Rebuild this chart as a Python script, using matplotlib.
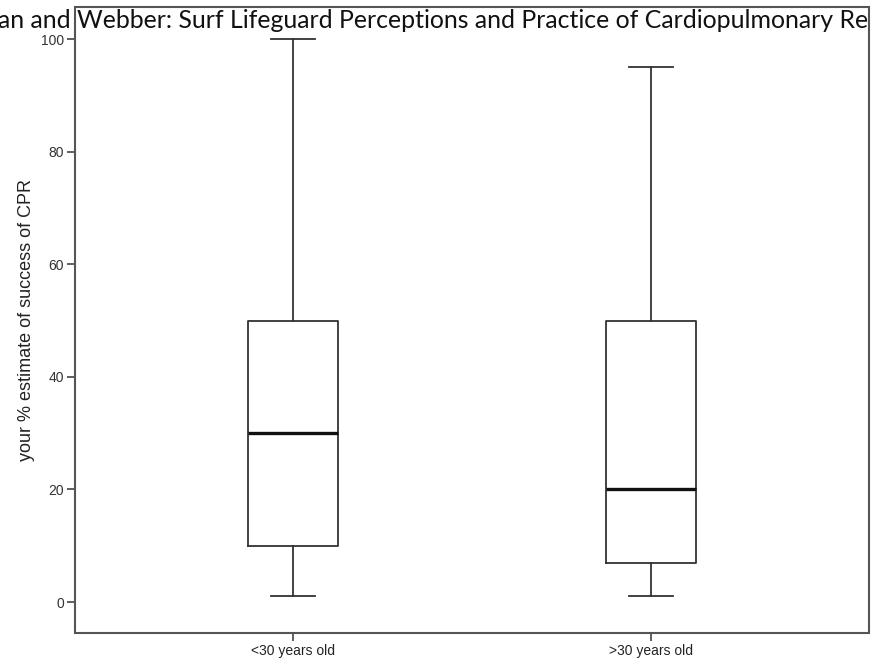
import matplotlib
matplotlib.use("Agg")
import matplotlib.pyplot as plt

categories = ["<30 years old", ">30 years old"]
whisker_low = [1, 1]
q1 = [10, 7]
median = [30, 20]
q3 = [50, 50]
whisker_high = [100, 95]
yticks = [0, 20, 40, 60, 80, 100]
ylabel = "your % estimate of success of CPR"
header = "an and Webber: Surf Lifeguard Perceptions and Practice of Cardiopulmonary Re"

stats = []
for i, c in enumerate(categories):
    stats.append(dict(label=c, whislo=whisker_low[i], q1=q1[i], med=median[i],
                      q3=q3[i], whishi=whisker_high[i], fliers=[]))

fig = plt.figure(figsize=(8.71, 6.70), dpi=100)
ax = fig.add_axes([75/871, 1-633/670, 794/871, 626/670])
lc = "#333333"
ax.bxp(stats, positions=[0, 1], widths=0.249, showfliers=False,
       boxprops=dict(color=lc, linewidth=1.3),
       whiskerprops=dict(color=lc, linewidth=1.3),
       capprops=dict(color=lc, linewidth=1.3),
       medianprops=dict(color="#111111", linewidth=2.4),
       capwidths=0.123)
ax.set_xlim(-0.609, 1.609)
ax.set_ylim(-5.5, 105.7)
ax.set_yticks(yticks)
ax.set_yticklabels([str(t) for t in yticks], fontsize=10, family="Liberation Sans", color="#333333")
ax.set_xticks([0, 1])
ax.set_xticklabels(categories, fontsize=10, family="Liberation Sans", color="#222222")
ax.tick_params(axis="both", length=6, width=1.2, color="#444444", pad=2)
for s in ax.spines.values():
    s.set_color("#555555")
    s.set_linewidth(1.5)
ax.set_ylabel(ylabel, fontsize=13, family="Liberation Sans", color="#222222", labelpad=4)

fig.text(-0.002, 1-28/670, header, fontsize=17.9, family="Lato", color="#111111",
         ha="left", va="baseline", zorder=10)

fig.savefig("out.png", dpi=100)
